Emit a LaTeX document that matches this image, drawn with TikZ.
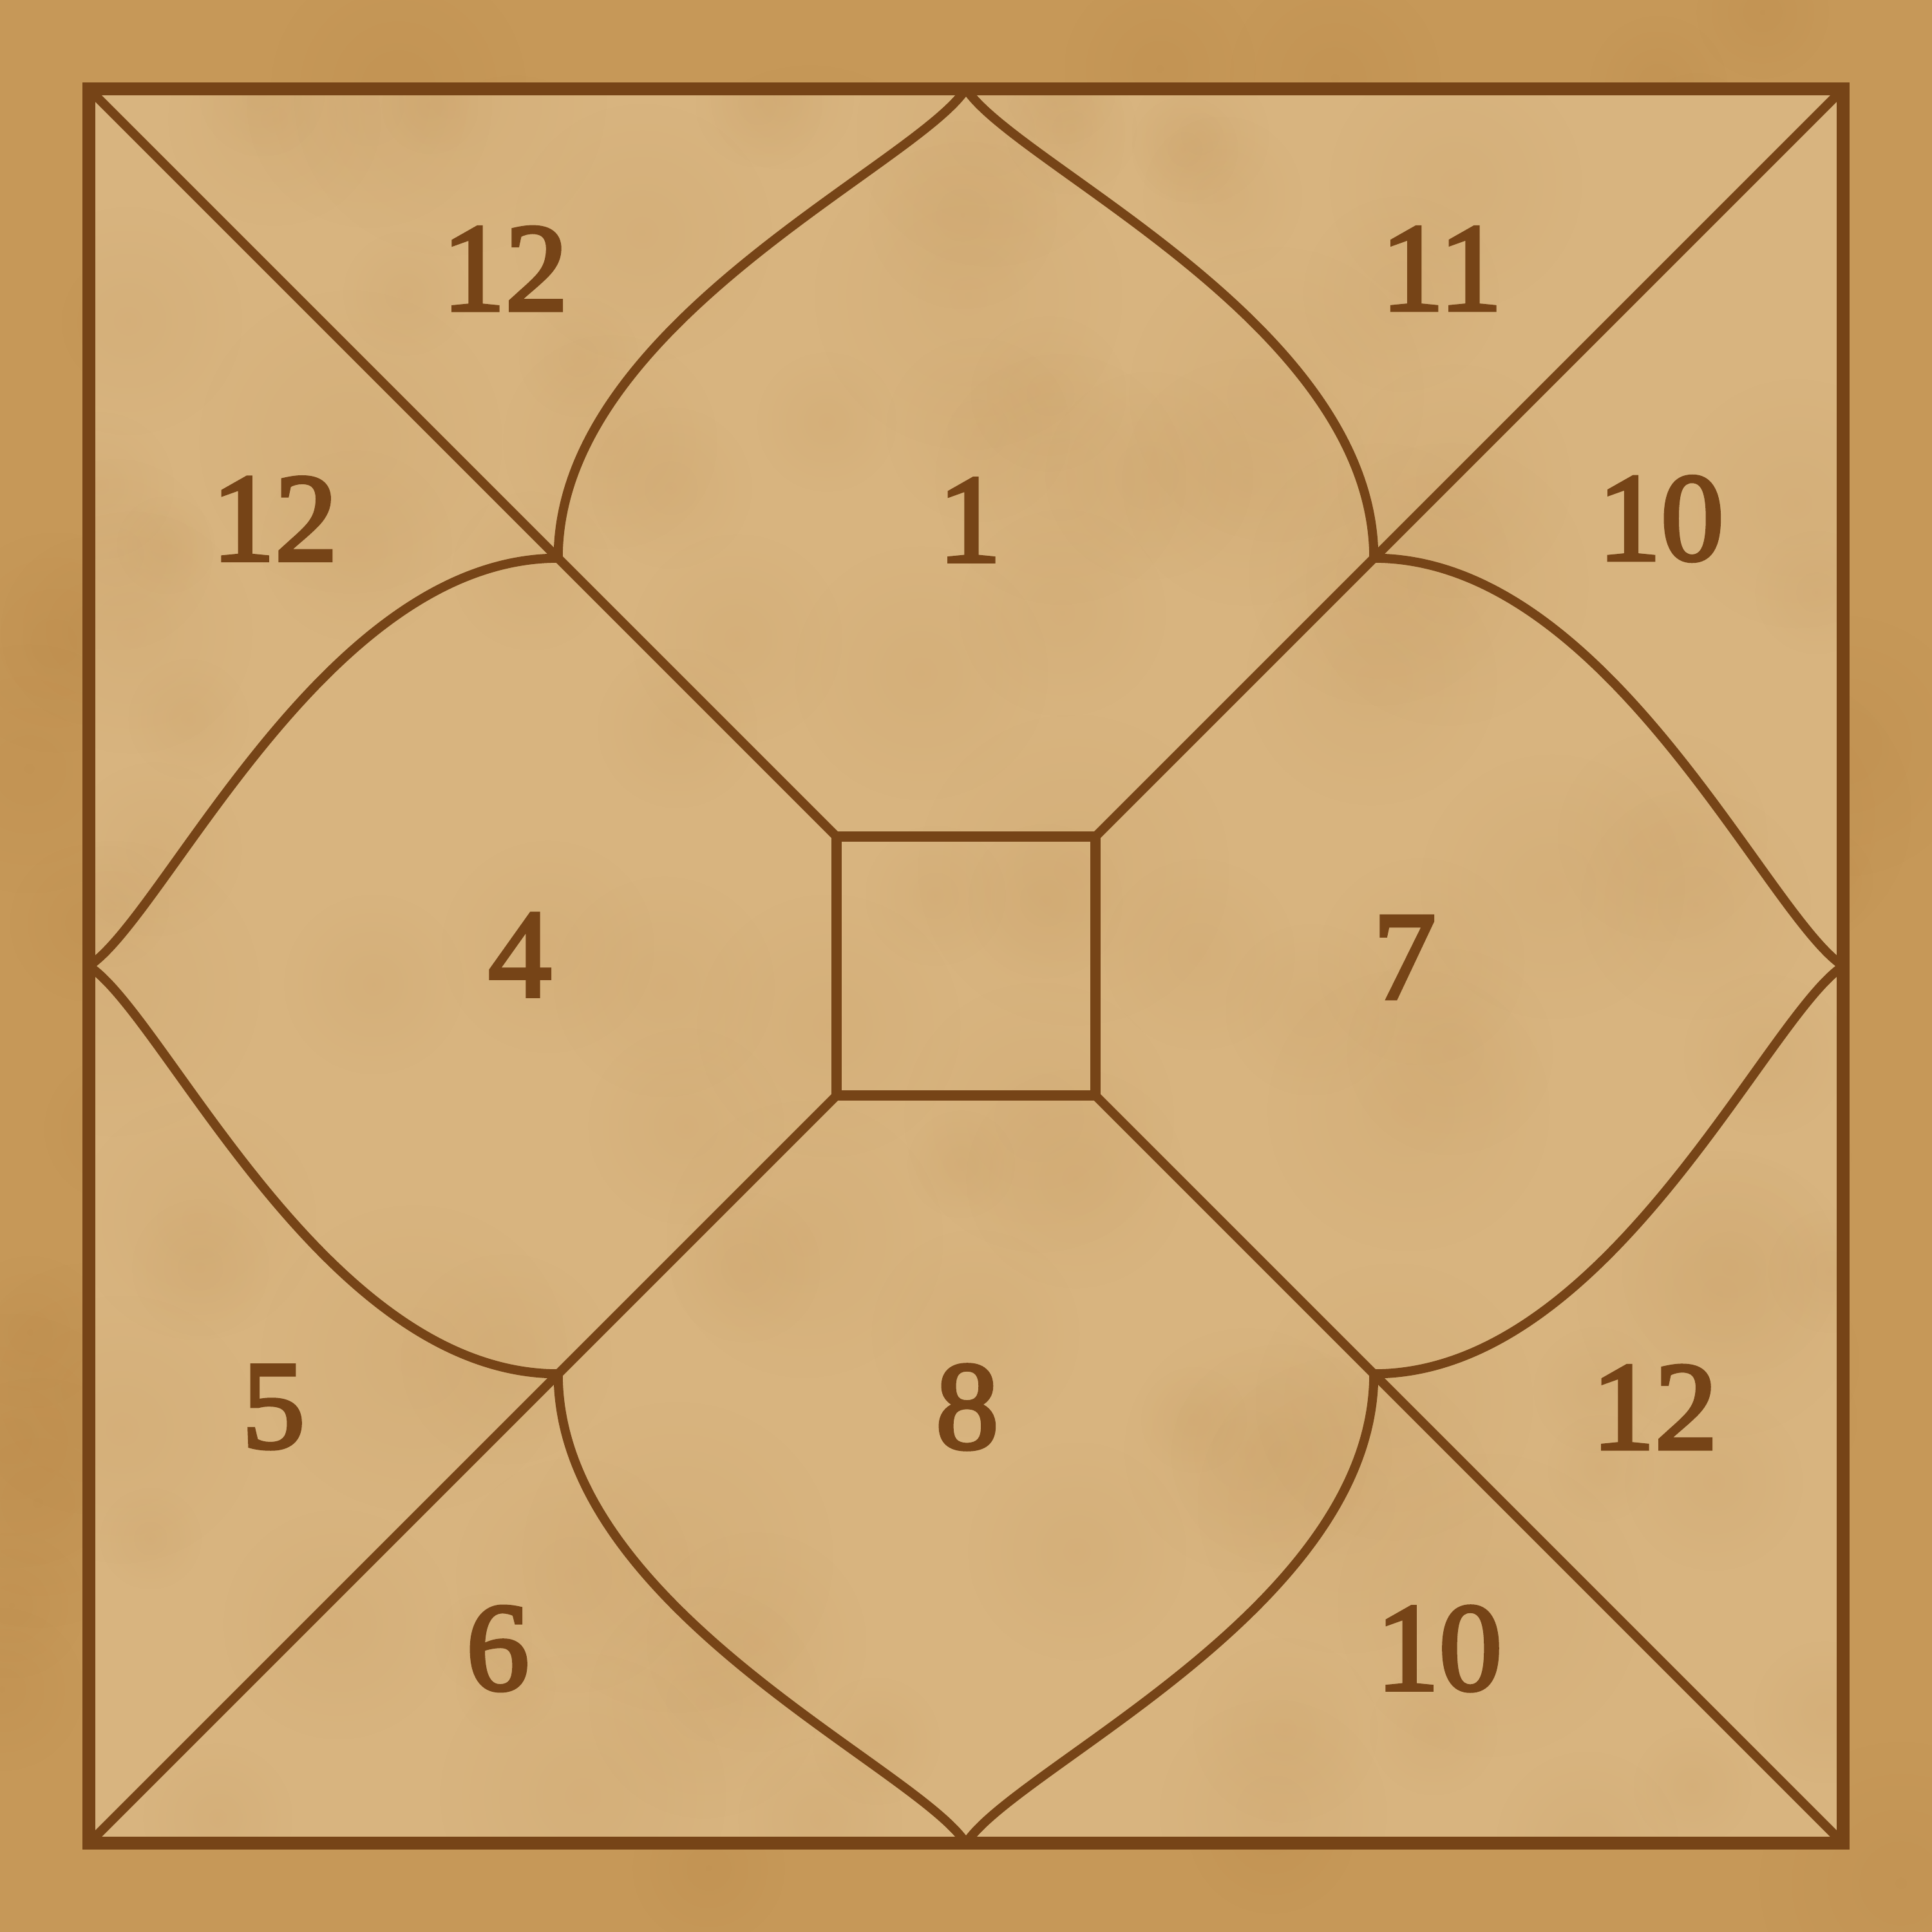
\documentclass[tikz,border=0pt]{standalone}
\usepackage{fontspec}
\usetikzlibrary{fadings}
\newfontfamily\numfont{Liberation Serif}[FakeBold=3]
\definecolor{marginc}{HTML}{C69858}
\definecolor{fieldc}{HTML}{D8B47F}
\definecolor{inkc}{HTML}{764417}
\definecolor{mottle}{HTML}{B07A3A}
\tikzfading[name=softblob, inner color=transparent!0, outer color=transparent!100]
\begin{document}
\begin{tikzpicture}[x=0.01cm,y=-0.01cm,
  chartline/.style={draw=inkc,line width=2.1pt,line cap=round,line join=round},
  frameline/.style={draw=inkc,line width=3pt,line join=miter},
  blob/.style={fill=mottle,path fading=softblob,fill opacity=0.14},
  house/.style={text=inkc,font=\numfont\fontsize{29}{29}\selectfont,inner sep=0pt}]
\useasboundingbox (0,0) rectangle (1568,1568);
\fill[marginc] (0,0) rectangle (1568,1568);
% corners of the frame
\coordinate (TL) at (72,72);
\coordinate (TR) at (1496,72);
\coordinate (BR) at (1496,1496);
\coordinate (BL) at (72,1496);
% mid points of the frame sides
\coordinate (T) at (784,72);
\coordinate (B) at (784,1496);
\coordinate (L) at (72,784);
\coordinate (R) at (1496,784);
% junctions
\coordinate (J1) at (453,453);
\coordinate (J2) at (1115,453);
\coordinate (J3) at (1115,1115);
\coordinate (J4) at (453,1115);
% inner square
\coordinate (S1) at (679,679);
\coordinate (S2) at (889,679);
\coordinate (S3) at (889,889);
\coordinate (S4) at (679,889);
% soft mottling of the margin
\pgfmathsetseed{11}
\foreach \i in {1,...,90}{
  \pgfmathsetmacro{\px}{rnd*1568}
  \pgfmathsetmacro{\py}{rnd*1568}
  \pgfmathsetmacro{\pr}{40+rnd*80}
  \fill[blob] (\px,\py) circle (\pr);
}
\fill[fieldc] (TL) rectangle (BR);
% soft mottling of the field
\begin{scope}
\clip (TL) rectangle (BR);
\foreach \i in {1,...,110}{
  \pgfmathsetmacro{\px}{72+rnd*1424}
  \pgfmathsetmacro{\py}{72+rnd*1424}
  \pgfmathsetmacro{\pr}{40+rnd*90}
  \fill[blob,fill opacity=0.08] (\px,\py) circle (\pr);
}
\end{scope}
% diagonals
\path[chartline] (TL) -- (S1);
\path[chartline] (TR) -- (S2);
\path[chartline] (BR) -- (S3);
\path[chartline] (BL) -- (S4);
% inner square
\path[chartline,line width=2.4pt,line cap=butt,line join=miter] (S1) -- (S2) -- (S3) -- (S4) -- cycle;
% petals
\path[chartline] (T) .. controls +(-40,62) and +(0,-190) .. (J1);
\path[chartline] (T) .. controls +(40,62) and +(0,-190) .. (J2);
\path[chartline] (L) .. controls +(62,-40) and +(-190,0) .. (J1);
\path[chartline] (L) .. controls +(62,40) and +(-190,0) .. (J4);
\path[chartline] (R) .. controls +(-62,-40) and +(190,0) .. (J2);
\path[chartline] (R) .. controls +(-62,40) and +(190,0) .. (J3);
\path[chartline] (B) .. controls +(-40,-62) and +(0,190) .. (J4);
\path[chartline] (B) .. controls +(40,-62) and +(0,190) .. (J3);
% frame
\path[frameline] (TL) rectangle (BR);
% house numbers
\node[house] (h12a) at (410,218) {12};
\node[house] (h11) at (1170,218) {11};
\node[house] (h12b) at (223,421) {12};
\node[house] (h1) at (787,422) {1};
\node[house] (h10a) at (1348,421) {10};
\node[house] (h4) at (422,775) {4};
\node[house] (h7) at (1140,777) {7};
\node[house] (h5) at (222,1142) {5};
\node[house] (h8) at (785,1142) {8};
\node[house] (h12c) at (1343,1142) {12};
\node[house] (h6) at (404,1338) {6};
\node[house] (h10b) at (1168,1338) {10};
\end{tikzpicture}
\end{document}
